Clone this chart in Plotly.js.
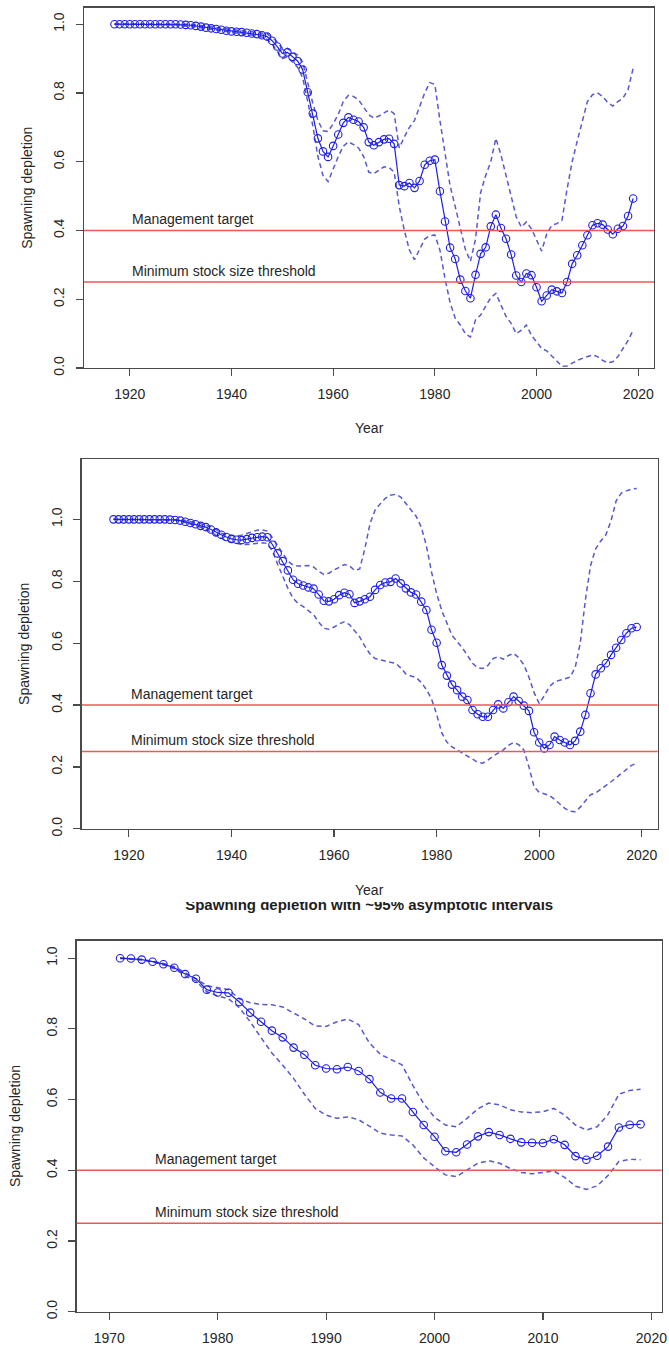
<!DOCTYPE html>
<html>
<head>
<meta charset="utf-8">
<script src="https://cdn.plot.ly/plotly-3.0.1.min.js"></script>
<style>
  html, body { margin: 0; padding: 0; background: #ffffff; }
  #chart { width: 669px; height: 1351px; }
</style>
</head>
<body>
<div id="chart"></div>
<script>
// ---- Reference points -------------------------------------------------------
const MANAGEMENT_TARGET = 0.4;
const MIN_STOCK_THRESHOLD = 0.25;

// ---- Run A: 1917-2019 ------------------------------------------------------
const yearsA = [
  1917, 1918, 1919, 1920, 1921, 1922, 1923, 1924, 1925, 1926, 1927, 1928, 1929,
  1930, 1931, 1932, 1933, 1934, 1935, 1936, 1937, 1938, 1939,
  1940, 1941, 1942, 1943, 1944, 1945, 1946, 1947, 1948, 1949,
  1950, 1951, 1952, 1953, 1954, 1955, 1956, 1957, 1958, 1959,
  1960, 1961, 1962, 1963, 1964, 1965, 1966, 1967, 1968, 1969,
  1970, 1971, 1972, 1973, 1974, 1975, 1976, 1977, 1978, 1979,
  1980, 1981, 1982, 1983, 1984, 1985, 1986, 1987, 1988, 1989,
  1990, 1991, 1992, 1993, 1994, 1995, 1996, 1997, 1998, 1999,
  2000, 2001, 2002, 2003, 2004, 2005, 2006, 2007, 2008, 2009,
  2010, 2011, 2012, 2013, 2014, 2015, 2016, 2017, 2018, 2019
];

const depletionA = [
  1.000, 1.000, 1.000, 1.000, 1.000, 1.000, 1.000, 1.000, 1.000, 1.000, 1.000, 1.000, 1.000,
  0.999, 0.998, 0.997, 0.995, 0.993, 0.990, 0.988, 0.986, 0.984, 0.981,
  0.979, 0.978, 0.977, 0.975, 0.973, 0.971, 0.968, 0.964, 0.952, 0.935,
  0.915, 0.918, 0.905, 0.893, 0.868, 0.802, 0.740, 0.668, 0.630, 0.614,
  0.646, 0.679, 0.713, 0.729, 0.722, 0.717, 0.700, 0.657, 0.648, 0.657,
  0.665, 0.667, 0.652, 0.532, 0.529, 0.538, 0.524, 0.544, 0.591, 0.603,
  0.606, 0.514, 0.426, 0.350, 0.317, 0.257, 0.224, 0.203, 0.271, 0.332,
  0.351, 0.412, 0.446, 0.407, 0.376, 0.330, 0.269, 0.250, 0.275, 0.270,
  0.235, 0.194, 0.211, 0.228, 0.223, 0.218, 0.250, 0.303, 0.328, 0.357,
  0.386, 0.415, 0.421, 0.417, 0.403, 0.389, 0.405, 0.413, 0.442, 0.493
];

const upperA = [
  1.000, 1.000, 1.000, 1.000, 1.000, 1.000, 1.000, 1.000, 1.000, 1.000, 1.000, 1.000, 1.000,
  1.002, 1.001, 1.000, 0.998, 0.996, 0.993, 0.991, 0.989, 0.987, 0.985,
  0.983, 0.982, 0.981, 0.979, 0.978, 0.976, 0.974, 0.972, 0.962, 0.948,
  0.930, 0.930, 0.920, 0.910, 0.890, 0.828, 0.770, 0.720, 0.690, 0.688,
  0.710, 0.738, 0.775, 0.793, 0.790, 0.780, 0.760, 0.737, 0.727, 0.733,
  0.742, 0.750, 0.740, 0.640, 0.672, 0.700, 0.720, 0.760, 0.800, 0.830,
  0.825, 0.720, 0.620, 0.530, 0.470, 0.410, 0.345, 0.310, 0.375, 0.510,
  0.560, 0.600, 0.668, 0.620, 0.560, 0.505, 0.440, 0.410, 0.425, 0.405,
  0.370, 0.340, 0.390, 0.415, 0.420, 0.430, 0.520, 0.600, 0.660, 0.720,
  0.775, 0.795, 0.800, 0.790, 0.772, 0.762, 0.775, 0.785, 0.810, 0.872
];

const lowerA = [
  1.000, 1.000, 1.000, 1.000, 1.000, 1.000, 1.000, 1.000, 1.000, 1.000, 1.000, 1.000, 1.000,
  0.996, 0.995, 0.994, 0.992, 0.990, 0.987, 0.985, 0.983, 0.981, 0.977,
  0.975, 0.974, 0.973, 0.971, 0.968, 0.966, 0.962, 0.956, 0.942, 0.922,
  0.900, 0.905, 0.890, 0.875, 0.845, 0.775, 0.705, 0.615, 0.560, 0.542,
  0.580, 0.615, 0.645, 0.658, 0.650, 0.640, 0.615, 0.570, 0.565, 0.575,
  0.585, 0.583, 0.570, 0.470, 0.400, 0.343, 0.315, 0.345, 0.375, 0.385,
  0.387, 0.343, 0.260, 0.190, 0.145, 0.125, 0.100, 0.090, 0.140, 0.154,
  0.180, 0.205, 0.217, 0.185, 0.150, 0.130, 0.100, 0.110, 0.125, 0.095,
  0.075, 0.057, 0.050, 0.035, 0.020, 0.005, 0.006, 0.015, 0.022, 0.028,
  0.034, 0.038, 0.033, 0.022, 0.015, 0.018, 0.033, 0.055, 0.080, 0.110
];

// ---- Run B: 1917-2019 ------------------------------------------------------
const yearsB = yearsA;

const depletionB = [
  1.000, 1.000, 1.000, 1.000, 1.000, 1.000, 1.000, 1.000, 1.000, 1.000, 1.000, 0.999, 0.998,
  0.996, 0.992, 0.988, 0.984, 0.979, 0.975, 0.967, 0.958, 0.950, 0.943,
  0.937, 0.934, 0.933, 0.936, 0.940, 0.942, 0.944, 0.942, 0.918, 0.890,
  0.865, 0.835, 0.805, 0.792, 0.786, 0.780, 0.776, 0.757, 0.737, 0.735,
  0.742, 0.755, 0.763, 0.758, 0.730, 0.735, 0.742, 0.750, 0.772, 0.788,
  0.796, 0.798, 0.809, 0.793, 0.777, 0.764, 0.757, 0.734, 0.707, 0.643,
  0.601, 0.529, 0.495, 0.466, 0.448, 0.427, 0.416, 0.384, 0.370, 0.362,
  0.362, 0.384, 0.402, 0.389, 0.409, 0.427, 0.413, 0.398, 0.381, 0.312,
  0.279, 0.260, 0.271, 0.298, 0.287, 0.279, 0.271, 0.284, 0.314, 0.368,
  0.438, 0.499, 0.519, 0.535, 0.562, 0.585, 0.610, 0.632, 0.648, 0.652
];

const upperB = [
  1.000, 1.000, 1.000, 1.000, 1.000, 1.000, 1.000, 1.000, 1.000, 1.000, 1.000, 1.000, 1.000,
  0.998, 0.996, 0.994, 0.990, 0.986, 0.982, 0.976, 0.968, 0.955, 0.950,
  0.947, 0.946, 0.949, 0.955, 0.960, 0.965, 0.966, 0.962, 0.940, 0.915,
  0.890, 0.865, 0.852, 0.849, 0.850, 0.851, 0.846, 0.832, 0.822, 0.826,
  0.836, 0.845, 0.854, 0.850, 0.835, 0.840, 0.905, 0.985, 1.030, 1.050,
  1.068, 1.078, 1.081, 1.072, 1.050, 1.030, 1.010, 0.975, 0.915, 0.830,
  0.760, 0.705, 0.665, 0.625, 0.605, 0.585, 0.560, 0.535, 0.520, 0.518,
  0.528, 0.550, 0.556, 0.548, 0.560, 0.567, 0.553, 0.530, 0.490, 0.440,
  0.405, 0.430, 0.460, 0.475, 0.480, 0.485, 0.490, 0.520, 0.600, 0.740,
  0.850, 0.905, 0.930, 0.950, 0.995, 1.060, 1.085, 1.092, 1.098, 1.100
];

const lowerB = [
  1.000, 1.000, 1.000, 1.000, 1.000, 1.000, 1.000, 1.000, 1.000, 1.000, 1.000, 0.999, 0.998,
  0.994, 0.990, 0.986, 0.980, 0.974, 0.968, 0.958, 0.948, 0.938, 0.930,
  0.926, 0.922, 0.919, 0.919, 0.921, 0.923, 0.924, 0.922, 0.897, 0.855,
  0.815, 0.777, 0.745, 0.728, 0.718, 0.705, 0.692, 0.668, 0.648, 0.645,
  0.652, 0.662, 0.669, 0.660, 0.640, 0.620, 0.590, 0.565, 0.550, 0.545,
  0.542, 0.538, 0.535, 0.520, 0.500, 0.494, 0.489, 0.473, 0.450, 0.420,
  0.370, 0.310, 0.280, 0.265, 0.255, 0.245, 0.237, 0.225, 0.215, 0.212,
  0.222, 0.235, 0.244, 0.255, 0.270, 0.279, 0.272, 0.255, 0.200, 0.135,
  0.118, 0.113, 0.108, 0.095, 0.080, 0.066, 0.057, 0.055, 0.070, 0.092,
  0.110, 0.116, 0.128, 0.138, 0.152, 0.165, 0.179, 0.193, 0.205, 0.212
];

// ---- Run C: 1971-2019 ------------------------------------------------------
const yearsC = [
  1971, 1972, 1973, 1974, 1975, 1976, 1977, 1978, 1979,
  1980, 1981, 1982, 1983, 1984, 1985, 1986, 1987, 1988, 1989,
  1990, 1991, 1992, 1993, 1994, 1995, 1996, 1997, 1998, 1999,
  2000, 2001, 2002, 2003, 2004, 2005, 2006, 2007, 2008, 2009,
  2010, 2011, 2012, 2013, 2014, 2015, 2016, 2017, 2018, 2019
];

const depletionC = [
  1.000, 0.999, 0.996, 0.990, 0.983, 0.973, 0.955, 0.942, 0.911,
  0.903, 0.902, 0.876, 0.846, 0.820, 0.795, 0.776, 0.747, 0.727, 0.697,
  0.688, 0.686, 0.692, 0.681, 0.658, 0.620, 0.603, 0.603, 0.565, 0.528,
  0.495, 0.454, 0.451, 0.473, 0.496, 0.508, 0.500, 0.489, 0.479, 0.478,
  0.477, 0.488, 0.472, 0.440, 0.430, 0.441, 0.467, 0.521, 0.529, 0.530
];

const upperC = [
  1.001, 1.000, 0.997, 0.991, 0.985, 0.976, 0.960, 0.942, 0.922,
  0.916, 0.911, 0.885, 0.874, 0.869, 0.868, 0.862, 0.846, 0.828, 0.808,
  0.807, 0.820, 0.828, 0.812, 0.760, 0.728, 0.712, 0.698, 0.640, 0.588,
  0.550, 0.528, 0.523, 0.547, 0.574, 0.590, 0.585, 0.571, 0.565, 0.563,
  0.566, 0.575, 0.556, 0.528, 0.514, 0.523, 0.558, 0.615, 0.626, 0.629
];

const lowerC = [
  0.999, 0.998, 0.995, 0.989, 0.981, 0.970, 0.950, 0.935, 0.905,
  0.893, 0.885, 0.860, 0.820, 0.775, 0.732, 0.697, 0.660, 0.615, 0.575,
  0.556, 0.547, 0.551, 0.543, 0.525, 0.505, 0.500, 0.497, 0.472, 0.435,
  0.410, 0.387, 0.382, 0.400, 0.420, 0.427, 0.420, 0.405, 0.394, 0.390,
  0.394, 0.398, 0.380, 0.355, 0.346, 0.356, 0.385, 0.425, 0.431, 0.430
];

// ---- Text ------------------------------------------------------------------
const Y_TITLE = 'Spawning depletion';
const X_TITLE = 'Year';
const TARGET_LABEL = 'Management target';
const THRESHOLD_LABEL = 'Minimum stock size threshold';
const PANEL3_TITLE = 'Spawning depletion with ~95% asymptotic intervals';

// ---- Styling ---------------------------------------------------------------
const W = 669, H = 1351;
const FONT = 'Liberation Sans, Arial, Helvetica, sans-serif';
const TEXT_COLOR = '#262626';
const AXIS_COLOR = '#4a4a4a';
const MAIN_BLUE = 'rgb(30,30,232)';
const CI_BLUE = 'rgb(88,88,208)';
const REF_RED = 'rgb(240,86,86)';

const fx = px => px / W;
const fy = px => 1 - px / H;

// plot boxes in page pixels
const panels = [
  { id: '',  left: 84.0, right: 654.0, top: 7.7,   bottom: 368.0,  xr: [1911.0, 2023.1], yr: [0, 1.048],
    years: yearsA, est: depletionA, hi: upperA, lo: lowerA, xticks: [1920, 1940, 1960, 1980, 2000, 2020], xTitleY: 428 },
  { id: '2', left: 81.7, right: 657.7, top: 459.0, bottom: 828.8,  xr: [1910.8, 2023.1], yr: [0, 1.195],
    years: yearsB, est: depletionB, hi: upperB, lo: lowerB, xticks: [1920, 1940, 1960, 1980, 2000, 2020], xTitleY: 890 },
  { id: '3', left: 76.7, right: 661.7, top: 940.5, bottom: 1311.7, xr: [1967.0, 2020.95], yr: [0, 1.05],
    years: yearsC, est: depletionC, hi: upperC, lo: lowerC, xticks: [1970, 1980, 1990, 2000, 2010, 2020], xTitleY: null }
];
const yTitleX = [27, 24, 15];

const yTicks = [0, 0.2, 0.4, 0.6, 0.8, 1.0];

const traces = [];
const shapes = [];
const annotations = [];
const layout = {
  width: W, height: H,
  margin: { l: 0, r: 0, t: 0, b: 0 },
  paper_bgcolor: '#ffffff',
  plot_bgcolor: '#ffffff',
  showlegend: false,
  font: { family: FONT, size: 14, color: TEXT_COLOR }
};

panels.forEach((p, i) => {
  const xa = 'x' + p.id, ya = 'y' + p.id;
  const xKey = 'xaxis' + p.id, yKey = 'yaxis' + p.id;

  layout[xKey] = {
    domain: [fx(p.left), fx(p.right)], anchor: ya, range: p.xr,
    tickmode: 'array', tickvals: p.xticks,
    ticks: 'outside', ticklen: 7, tickwidth: 1.2, tickcolor: AXIS_COLOR,
    showline: true, mirror: true, linecolor: AXIS_COLOR, linewidth: 1.3,
    showgrid: false, zeroline: false,
    tickfont: { family: FONT, size: 14, color: TEXT_COLOR },
    ticklabelstandoff: 6
  };
  layout[yKey] = {
    domain: [fy(p.bottom), fy(p.top)], anchor: xa, range: p.yr,
    tickmode: 'array', tickvals: yTicks, tickformat: '.1f', tickangle: -90,
    ticks: 'outside', ticklen: 7, tickwidth: 1.2, tickcolor: AXIS_COLOR,
    showline: true, mirror: true, linecolor: AXIS_COLOR, linewidth: 1.3,
    showgrid: false, zeroline: false,
    tickfont: { family: FONT, size: 14, color: TEXT_COLOR },
    ticklabelstandoff: 6
  };

  // reference lines across the full plot width
  [MANAGEMENT_TARGET, MIN_STOCK_THRESHOLD].forEach(v => {
    shapes.push({
      type: 'line', xref: xa + ' domain', yref: ya,
      x0: 0, x1: 1, y0: v, y1: v,
      line: { color: REF_RED, width: 1.6 }
    });
  });

  // labels for the reference lines, starting three years after the first year
  const labelX = p.years[0] + 3;
  [[MANAGEMENT_TARGET, TARGET_LABEL], [MIN_STOCK_THRESHOLD, THRESHOLD_LABEL]].forEach(([v, t]) => {
    annotations.push({
      xref: xa, yref: ya, x: labelX, y: v, text: t,
      xanchor: 'left', yanchor: 'bottom', yshift: 1, showarrow: false,
      font: { family: FONT, size: 14, color: TEXT_COLOR }
    });
  });

  // interval bounds
  [p.hi, p.lo].forEach(b => {
    traces.push({
      type: 'scatter', mode: 'lines', x: p.years, y: b, xaxis: xa, yaxis: ya,
      line: { color: CI_BLUE, width: 1.5, dash: '5px,3.5px' }, hoverinfo: 'skip'
    });
  });

  // estimate with open circles
  traces.push({
    type: 'scatter', mode: 'lines+markers', x: p.years, y: p.est, xaxis: xa, yaxis: ya,
    line: { color: MAIN_BLUE, width: 1.2 },
    marker: { symbol: 'circle-open', size: 7.5, color: MAIN_BLUE, line: { width: 1.1, color: MAIN_BLUE } }
  });

  // axis titles
  annotations.push({
    xref: 'paper', yref: 'paper', x: fx(yTitleX[i]), y: fy((p.top + p.bottom) / 2),
    text: Y_TITLE, textangle: -90, showarrow: false, xanchor: 'center', yanchor: 'middle',
    font: { family: FONT, size: 14, color: TEXT_COLOR }
  });
  if (p.xTitleY !== null) {
    annotations.push({
      xref: 'paper', yref: 'paper', x: fx((p.left + p.right) / 2), y: fy(p.xTitleY),
      text: X_TITLE, showarrow: false, xanchor: 'center', yanchor: 'middle',
      font: { family: FONT, size: 14, color: TEXT_COLOR }
    });
  }
});

// Title of the last panel sits in a thin strip whose clip hides the upper half of the glyphs.
layout.xaxis4 = { domain: [fx(76.7), fx(661.7)], range: [0, 1], visible: false, fixedrange: true };
layout.yaxis4 = { domain: [fy(930), fy(902)], range: [0, 1], visible: false, fixedrange: true };
traces.push({
  type: 'scatter', mode: 'text', x: [0.5], y: [0.84], xaxis: 'x4', yaxis: 'y4',
  text: ['<b>' + PANEL3_TITLE + '</b>'], textposition: 'middle center', cliponaxis: true,
  textfont: { family: FONT, size: 15, color: '#1e1e1e' }, hoverinfo: 'skip'
});

layout.shapes = shapes;
layout.annotations = annotations;

Plotly.newPlot('chart', traces, layout, { staticPlot: true, displayModeBar: false });
</script>
</body>
</html>
